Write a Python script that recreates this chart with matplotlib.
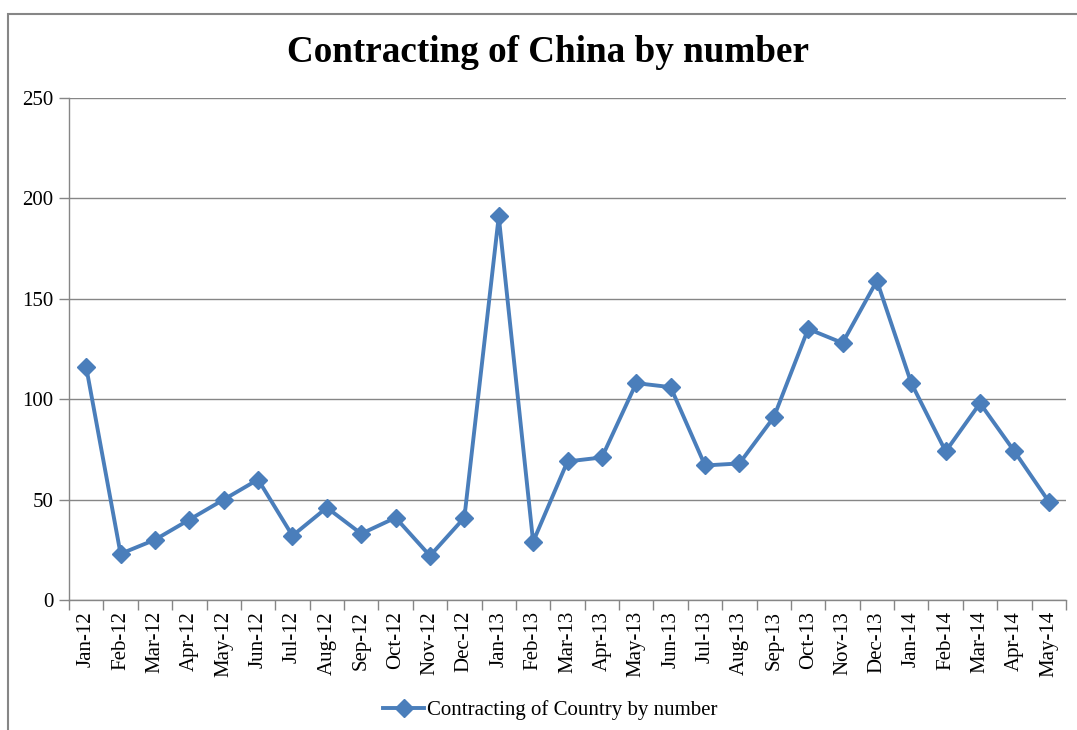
import matplotlib.pyplot as plt
from matplotlib.patches import Rectangle
from matplotlib.ticker import FixedLocator, MultipleLocator

plt.rcParams['font.family'] = ['Liberation Serif', 'DejaVu Serif']

months = ['Jan-12', 'Feb-12', 'Mar-12', 'Apr-12', 'May-12', 'Jun-12', 'Jul-12',
          'Aug-12', 'Sep-12', 'Oct-12', 'Nov-12', 'Dec-12', 'Jan-13', 'Feb-13',
          'Mar-13', 'Apr-13', 'May-13', 'Jun-13', 'Jul-13', 'Aug-13', 'Sep-13',
          'Oct-13', 'Nov-13', 'Dec-13', 'Jan-14', 'Feb-14', 'Mar-14', 'Apr-14',
          'May-14']
counts = [116, 23, 30, 40, 50, 60, 32, 46, 33, 41, 22, 41, 191, 29,
          69, 71, 108, 106, 67, 68, 91, 135, 128, 159, 108, 74, 98, 74, 49]

title = 'Contracting of China by number'
series_name = 'Contracting of Country by number'

blue = '#4A7EBB'
grey = '#868686'

fig = plt.figure(figsize=(10.77, 7.30), dpi=100)

# chart frame (runs off the right and bottom edges)
fig.patches.append(Rectangle((8 / 1077, -0.05), 1.1, 1 - 14 / 730 + 0.05,
                             transform=fig.transFigure, fill=False,
                             edgecolor=grey, linewidth=1.5))

ax = fig.add_axes([69 / 1077, 130 / 730, 997 / 1077, 502 / 730])
x = list(range(len(months)))
line, = ax.plot(x, counts, color=blue, linewidth=2.8, marker='D',
                markersize=9.5, markerfacecolor=blue, markeredgecolor=blue,
                label=series_name, zorder=3)

ax.set_xlim(-0.5, len(months) - 0.5)
ax.set_ylim(0, 250)
ax.yaxis.set_major_locator(MultipleLocator(50))
ax.grid(axis='y', color=grey, linewidth=1.0)
ax.set_axisbelow(True)

for side in ('top', 'right'):
    ax.spines[side].set_visible(False)
for side in ('left', 'bottom'):
    ax.spines[side].set_color(grey)
    ax.spines[side].set_linewidth(1.0)

# tick marks sit between categories, labels on the categories
ax.xaxis.set_major_locator(FixedLocator([i - 0.5 for i in range(len(months) + 1)]))
ax.xaxis.set_minor_locator(FixedLocator(x))
ax.set_xticklabels([])
ax.set_xticklabels(months, minor=True, rotation=90, fontsize=15)
ax.tick_params(axis='x', which='major', length=7, color=grey, width=1.0)
ax.tick_params(axis='x', which='minor', length=0, pad=8)
ax.tick_params(axis='y', length=7, color=grey, width=1.0, labelsize=15, pad=4)

fig.text(0.509, 1 - 52 / 730, title, ha='center', va='center',
         fontsize=26.7, fontweight='bold')

fig.legend(handles=[line], loc='center', bbox_to_anchor=(0.511, 1 - 710 / 730),
           frameon=False, fontsize=15, handlelength=2.0, handletextpad=0.15)

fig.savefig('out.png', dpi=100)
